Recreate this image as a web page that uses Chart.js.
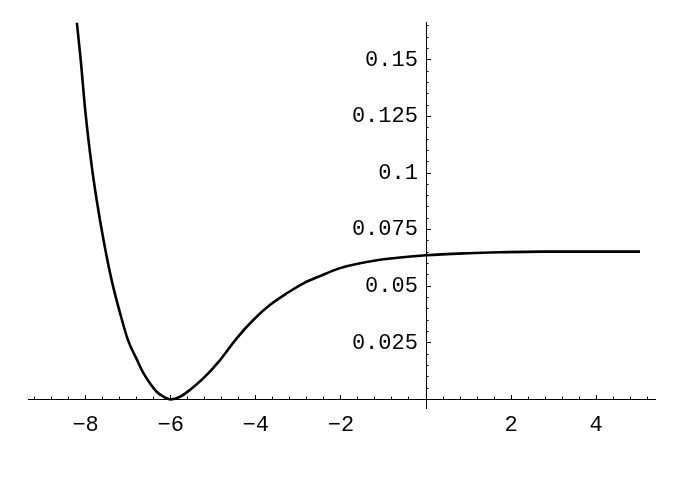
<!DOCTYPE html>
<html>
<head>
<meta charset="utf-8">
<script src="https://cdn.jsdelivr.net/npm/chart.js@4/dist/chart.umd.min.js"></script>
<style>
  html, body { margin: 0; padding: 0; background: #fff; }
</style>
</head>
<body>
<canvas id="myChart" width="692" height="477"></canvas>
<script>
// curve (x, y)
const xs = [-8.22, -8.115, -8.01, -7.86, -7.74, -7.58, -7.39, -7.19, -7.00, -6.80, -6.64, -6.33, -6.17, -6.00,
  -5.78, -5.55, -5.23, -4.84, -4.45, -4.06, -3.67, -3.27, -2.88, -2.49, -2.02, -1.00,
  0.00, 1.00, 1.74, 2.68, 5.03];
const ys = [0.169, 0.1500, 0.1279, 0.1036, 0.0881, 0.0705, 0.0528, 0.0381, 0.0260, 0.0178, 0.0116, 0.0034, 0.0012, 0.0000,
  0.0012, 0.0042, 0.0094, 0.0174, 0.0270, 0.0351, 0.0417, 0.0469, 0.0513, 0.0545, 0.0580, 0.0619,
  0.0637, 0.0646, 0.0650, 0.0653, 0.0653];

// axis ranges and tick steps
const xRange = [-9.354, 5.382];
const yRange = [-0.004, 0.1664];
const xMajorStep = 2, xMinorStep = 0.4;
const yMajorStep = 0.025, yMinorStep = 0.005;

const tickFont = { family: "'Liberation Mono', 'DejaVu Sans Mono', monospace", size: 22 };

const points = xs.map((x, i) => ({ x: x, y: ys[i] }));

function noGrid(len) {
  return { drawOnChartArea: false, drawTicks: true, tickLength: len, tickColor: "#000", tickWidth: 1 };
}

const config = {
  type: "scatter",
  data: {
    datasets: [
      {
        data: points,
        showLine: true,
        borderColor: "#000",
        borderWidth: 2.6,
        pointRadius: 0,
        cubicInterpolationMode: "monotone",
        xAxisID: "x",
        yAxisID: "y",
      },
    ],
  },
  options: {
    responsive: false,
    animation: false,
    devicePixelRatio: 1,
    layout: { padding: { left: 28, right: 37, top: 22.7, bottom: 68.5 } },
    plugins: { legend: { display: false }, tooltip: { enabled: false } },
    scales: {
      x: {
        type: "linear",
        position: { y: 0 },
        min: xRange[0],
        max: xRange[1],
        grid: noGrid(-5),
        border: { display: true, color: "#000", width: 1 },
        ticks: {
          stepSize: xMajorStep,
          includeBounds: false,
          autoSkip: false,
          maxRotation: 0,
          padding: 18,
          color: "#000",
          font: tickFont,
          callback: (v) => (v === 0 ? "" : (v < 0 ? "\u2212" + (-v) : String(v))),
        },
      },
      xMinor: {
        type: "linear",
        axis: "x",
        position: { y: 0 },
        min: xRange[0],
        max: xRange[1],
        grid: noGrid(-2.5),
        border: { display: false },
        ticks: { stepSize: xMinorStep, includeBounds: false, autoSkip: false, display: false },
      },
      y: {
        type: "linear",
        position: { x: 0 },
        min: yRange[0],
        max: yRange[1],
        grid: noGrid(-5),
        border: { display: true, color: "#000", width: 1 },
        ticks: { stepSize: yMajorStep, includeBounds: false, autoSkip: false, display: false },
      },
      yMinor: {
        type: "linear",
        axis: "y",
        position: { x: 0 },
        min: yRange[0],
        max: yRange[1],
        grid: noGrid(-2.5),
        border: { display: false },
        ticks: { stepSize: yMinorStep, includeBounds: false, autoSkip: false, display: false },
      },
      // labels of the y axis sit a little left of x = 0
      yLabels: {
        type: "linear",
        axis: "y",
        position: { x: -0.19 },
        min: yRange[0],
        max: yRange[1],
        grid: { display: false, drawTicks: false },
        border: { display: false },
        ticks: {
          stepSize: yMajorStep,
          includeBounds: false,
          autoSkip: false,
          padding: 0,
          color: "#000",
          font: tickFont,
          callback: (v) => (Math.abs(v) < 1e-9 ? "" : String(+v.toFixed(3))),
        },
      },
    },
  },
};

const myChart = new Chart(document.getElementById("myChart"), config);
</script>
</body>
</html>
